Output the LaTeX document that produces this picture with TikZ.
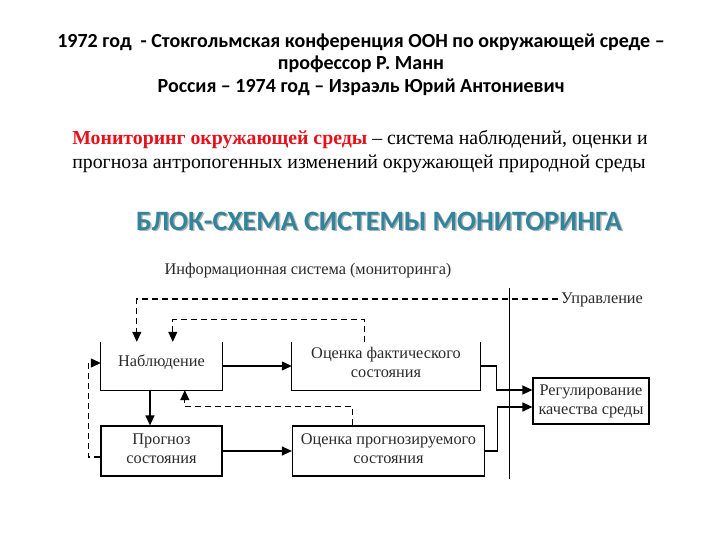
\documentclass[tikz,border=0pt]{standalone}
\usepackage{fontspec}
\setmainfont{Liberation Serif}
\newfontfamily\hdrfont{Carlito}
\usetikzlibrary{arrows.meta}
\definecolor{titleblue}{HTML}{31849B}
\definecolor{defred}{HTML}{E8101A}
\definecolor{lbl}{HTML}{2A2A2A}
\tikzset{
  hdr/.style={font=\hdrfont\bfseries\fontsize{20}{23}\selectfont, inner sep=0pt},
  deftext/.style={font=\fontsize{19.8}{23}\selectfont, inner sep=0pt},
  boxtext/.style={font=\fontsize{16.3}{19}\selectfont, text=lbl, align=center, inner sep=0pt},
  blk/.style={inner sep=0pt},
  arr/.style={line width=1.2pt, -{Triangle[length=10pt,width=9pt]}},
  dsh/.style={line width=1.2pt, dash pattern=on 6pt off 4pt, -{Triangle[length=10pt,width=9pt]}},
  edge/.style={line width=1.2pt},
}
\begin{document}
\begin{tikzpicture}[x=1pt,y=-1pt]
\useasboundingbox[fill=white] (0,0) rectangle (720,540);

% header
\node[hdr] (h1) at (361,42) {1972 год~ - Стокгольмская конференция ООН по окружающей среде –};
\node[hdr] (h2) at (361,64) {профессор Р. Манн};
\node[hdr] (h3) at (361,87) {Россия – 1974 год – Израэль Юрий Антониевич};

% definition
\node[deftext] (d1) at (360,140) {\textcolor{defred}{\bfseries Мониторинг окружающей среды} – система наблюдений, оценки и};
\node[deftext] (d2) at (359,164) {прогноза антропогенных изменений окружающей природной среды};

% block title
\node[hdr, font=\hdrfont\bfseries\fontsize{28}{32}\selectfont, text=black!30] (tsh) at (380.5,222.5) {БЛОК-СХЕМА СИСТЕМЫ МОНИТОРИНГА};
\node[hdr, font=\hdrfont\bfseries\fontsize{28}{32}\selectfont, text=titleblue] (tt) at (379,221) {БЛОК-СХЕМА СИСТЕМЫ МОНИТОРИНГА};

% labels
\node[boxtext] (info) at (308,271) {Информационная система (мониторинга)};
\node[boxtext, anchor=west] (upr) at (561,300) {Управление};

% boxes
\node[blk, minimum width=121pt, minimum height=48pt] (obs) at (161.5,366) {};
\node[boxtext] (obst) at (161.5,362) {Наблюдение};
\node[blk, minimum width=188pt, minimum height=48pt] (est) at (386,366) {};
\node[boxtext] (estt) at (386,362) {Оценка фактического\\состояния};
\node[blk, draw, line width=1.2pt, minimum width=121pt, minimum height=50pt] (prog) at (161.5,451) {};
\node[boxtext] (progt) at (161.5,449) {Прогноз\\состояния};
\node[blk, draw, line width=1.2pt, minimum width=192pt, minimum height=50pt] (estp) at (388.5,451) {};
\node[boxtext] (estpt) at (388.5,449) {Оценка прогнозируемого\\состояния};
\node[blk, draw, line width=1.2pt, minimum width=116pt, minimum height=46pt] (reg) at (591,401) {};
\node[boxtext] (regt) at (591,401) {Регулирование\\качества среды};

% open-top boxes
\draw[edge] (obs.north west) -- (obs.south west) -- (obs.south east) -- (obs.north east);
\draw[edge] (est.north west) -- (est.south west) -- (est.south east) -- (est.north east);

% vertical separator
\coordinate (vt) at (509,288);
\coordinate (vb) at (509,479);
\draw[line width=1pt] (vt) -- (vb);

% dashed control lines
\coordinate (uprend) at (558,299);
\draw[dsh] (uprend) -| ([xshift=36pt]obs.north west);
\draw[dsh] ([xshift=73pt]est.north west) -- ++(0,-22) -| ([xshift=72pt]obs.north west);
\draw[dsh] ([xshift=60.5pt]estp.north west) -- ++(0,-19) -| ([xshift=84pt]obs.south west);
\draw[dsh] ([yshift=-6pt]prog.west) -- ++(-12,0) |- ([yshift=3pt]obs.west);

% solid arrows
\draw[arr] (obs.east) -- (est.west);
\draw[arr] ([xshift=-11.5pt]obs.south) -- ([xshift=-11.5pt]obs.south |- prog.north);
\draw[arr] (prog.east) -- (estp.west);
\draw[arr] (est.east) -- ++(16,0) |- ([yshift=11pt]reg.west);
\draw[arr] (estp.east) -- ++(12,0) |- ([yshift=-6pt]reg.west);
\end{tikzpicture}
\end{document}
